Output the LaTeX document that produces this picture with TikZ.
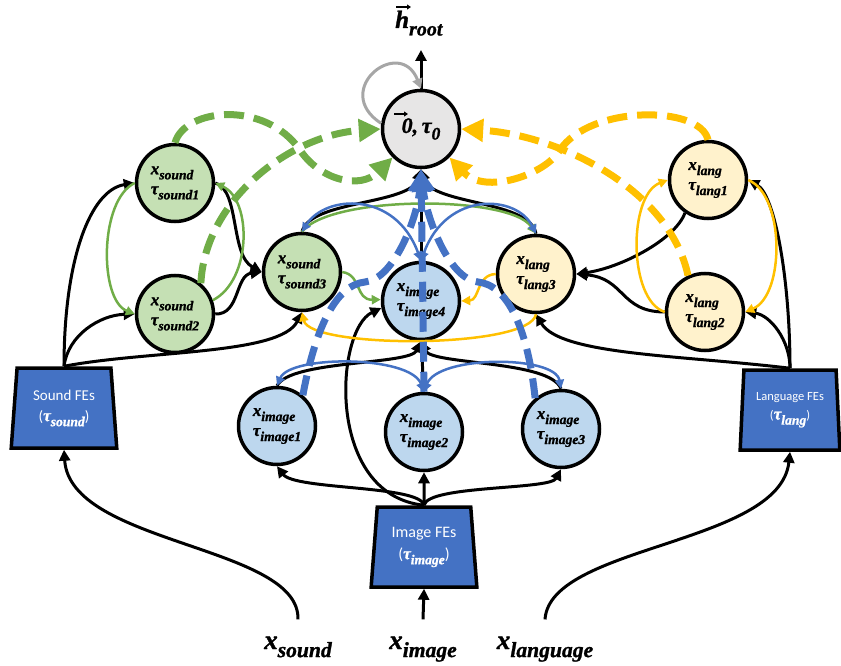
\documentclass[tikz,border=0pt]{standalone}
\usepackage{graphicx}
\usepackage{fontspec}
\newfontfamily\calibri{Carlito}
\newfontfamily\lsf{Liberation Serif}[BoldItalicFeatures={FakeBold=1.2}]
\newcommand\bi{\lsf\bfseries\itshape}
\newcommand\var[2]{{\bi #1\raisebox{-0.3em}{\scalebox{0.8}{\bi #2}}}}
\usetikzlibrary{arrows.meta,shapes.geometric}
\definecolor{gfill}{HTML}{C5E0B4}
\definecolor{gline}{HTML}{70AD47}
\definecolor{yfill}{HTML}{FFF2CC}
\definecolor{yline}{HTML}{FFC000}
\definecolor{bfill}{HTML}{BDD7EE}
\definecolor{bline}{HTML}{4472C4}
\definecolor{rfill}{HTML}{E7E6E6}
\definecolor{loopgray}{HTML}{A6A6A6}
\begin{document}
\begin{tikzpicture}[x=1pt,y=-1pt,
  state/.style={circle, draw=black, line width=3.5pt, minimum size=77pt, inner sep=0pt,
    align=left, font=\fontsize{17}{20}\selectfont},
  gnode/.style={state, fill=gfill},
  ynode/.style={state, fill=yfill},
  bnode/.style={state, fill=bfill},
  rnode/.style={state, fill=rfill, font=\fontsize{22}{26}\selectfont},
  fe/.style={trapezium, trapezium stretches=true, draw=black, line width=3.5pt, fill=bline,
    text=white, align=center, minimum height=80pt, minimum width=106pt,
    trapezium left angle=84, trapezium right angle=84, inner sep=0pt},
  lbl/.style={font=\fontsize{27}{30}\selectfont, inner xsep=0pt, inner ysep=17pt, anchor=base},
  blk/.style={draw=black, line width=3pt, -{Triangle[length=11pt,width=11pt]}},
  vecarr/.style={draw=black, line width=1.4pt, -{Triangle[length=4pt,width=5pt]}},
  thinarr/.style={line width=2.5pt, -{Triangle[length=9pt,width=9pt]}},
  gthin/.style={thinarr, draw=gline},
  ythin/.style={thinarr, draw=yline},
  bthin/.style={line width=2.5pt, draw=bline, {Triangle[length=9pt,width=9pt]}-{Triangle[length=9pt,width=9pt]}},
  dsh/.style={line width=7pt, dash pattern=on 20pt off 10pt, -{Triangle[length=22pt,width=22pt]}},
  gdash/.style={dsh, draw=gline},
  ydash/.style={dsh, draw=yline},
  bdash/.style={dsh, draw=bline},
  loopst/.style={draw=loopgray, line width=3pt, -{Triangle[length=10pt,width=10pt]}}
]
\useasboundingbox (0,0) rectangle (841,666);

% nodes
\node[rnode] (root) at (421,129) {\raisebox{-6pt}{{\bi 0,\,}\var{τ}{0}}};
\node[gnode] (s1) at (175,183) {\var{x}{sound}\\\var{τ}{sound1}};
\node[gnode] (s2) at (175,314) {\var{x}{sound}\\\var{τ}{sound2}};
\node[gnode] (s3) at (302,272) {\var{x}{sound}\\\var{τ}{sound3}};
\node[bnode] (i4) at (421,301) {\var{x}{image}\\\var{τ}{image4}};
\node[bnode] (i1) at (277,426) {\var{x}{image}\\\var{τ}{image1}};
\node[bnode] (i2) at (424,432) {\var{x}{image}\\\var{τ}{image2}};
\node[bnode] (i3) at (561,429) {\var{x}{image}\\\var{τ}{image3}};
\node[ynode] (l3) at (536,274) {\var{x}{lang}\\\var{τ}{lang3}};
\node[ynode] (l1) at (708,180) {\var{x}{lang}\\\var{τ}{lang1}};
\node[ynode] (l2) at (705,312) {\var{x}{lang}\\\var{τ}{lang2}};

\node[fe, font=\calibri\fontsize{15}{21}\selectfont] (sfe) at (64,408) {Sound FEs\\({\fontsize{17}{19}\selectfont\var{τ}{sound}})};
\node[fe, font=\calibri\fontsize{16}{22}\selectfont] (ife) at (424,547) {Image FEs\\({\fontsize{17}{19}\selectfont\var{τ}{image}})};
\node[fe, font=\calibri\fontsize{12.5}{19}\selectfont, minimum width=100pt,
  trapezium left angle=85.5, trapezium right angle=85.5] (lfe) at (790,410) {Language FEs\\({\fontsize{17}{19}\selectfont\var{τ}{lang}})};

\node[anchor=base west, inner sep=0pt, font=\fontsize{25}{28}\selectfont] (hroot) at (395,28) {\var{h}{root}};
\coordinate (hout) at (421,50);
\node[lbl] (xs) at (298,649) {\var{x}{sound}};
\node[lbl] (xi) at (423,649) {\var{x}{image}};
\node[lbl] (xl) at (545,649) {\var{x}{language}};

% vector arrows over h and 0
\draw[vecarr] ([shift={(1,-21)}]hroot.base west) -- ++(15,0);
\draw[vecarr] ([shift={(-27,-15)}]root.center) -- ++(14,0);

% black connectors
\draw[blk] (root.north) -- (hout);
\draw[blk] (s3.north) .. controls (310,200) and (410,205) .. (root.south);
\draw[blk] (l3.north) .. controls (530,200) and (432,205) .. (root.south);
\draw[blk] (i4) -- (root);
\draw[blk] (s1.east) .. controls (240,190) and (230,255) .. (s3.west);
\draw[blk] (s2.east) .. controls (240,315) and (235,275) .. (s3.west);
\draw[blk] (l1.235) .. controls (675,240) and (620,268) .. (l3.east);
\draw[blk] (l2.west) .. controls (620,312) and (625,278) .. (l3.east);
\draw[blk] (i1.north) .. controls (290,360) and (410,365) .. (i4.south);
\draw[blk] (i3.north) .. controls (550,360) and (432,365) .. (i4.south);
\draw[blk] (i2) -- (i4);
\draw[blk] (sfe.north) .. controls (64,260) and (90,190) .. (s1.west);
\draw[blk] (sfe.north) .. controls (68,335) and (100,315) .. (s2.west);
\draw[blk] (sfe.north) .. controls (150,350) and (280,355) .. (s3.south);
\draw[blk] (lfe.north) .. controls (790,280) and (775,195) .. (l1.east);
\draw[blk] (lfe.north) .. controls (790,340) and (770,315) .. (l2.east);
\draw[blk] (lfe.north) .. controls (680,355) and (560,355) .. (l3.south);
\draw[blk] (ife.north) .. controls (420,485) and (295,490) .. (i1.south);
\draw[blk] (ife) -- (i2);
\draw[blk] (ife.north) .. controls (428,485) and (550,490) .. (i3.south);
\draw[blk] (ife.north) .. controls (325,495) and (335,330) .. (i4.190);
\draw[blk] (xs.north) .. controls (300,545) and (70,545) .. (sfe.south);
\draw[blk] (xi.north) -- (ife.south);
\draw[blk] (xl.north) .. controls (550,545) and (780,545) .. (lfe.south);

% grey self loop
\draw[loopst] (root.172) .. controls (330,90) and (400,35) .. (root.north);

% thin coloured connectors
\draw[gthin] (s1.west) .. controls (99,200) and (99,300) .. (s2.west);
\draw[gthin] (s2.20) .. controls (252,280) and (252,200) .. (s1.east);
\draw[ythin] (l2.west) .. controls (628,300) and (628,195) .. (l1.west);
\draw[ythin] (l1.east) .. controls (785,195) and (785,295) .. (l2.east);
\draw[gthin] (s3.north) .. controls (330,195) and (510,195) .. (l3.north);
\draw[ythin] (l3.south) .. controls (530,349) and (310,349) .. (s3.south);
\draw[gthin] (s3.east) .. controls (362,275) and (355,300) .. (i4.178);
\draw[ythin] (l3.west) .. controls (476,275) and (480,300) .. (i4.east);
\draw[bthin] (s3.north) .. controls (325,195) and (395,190) .. (i4.north);
\draw[bthin] (i4.north) .. controls (447,190) and (517,195) .. (l3.north);
\draw[bthin] (i1.north) .. controls (290,355) and (410,355) .. (i2.north);
\draw[bthin] (i2.north) .. controls (438,355) and (555,355) .. (i3.north);

% thick dashed connectors
\draw[gdash] (s1.north) .. controls (185,108) and (265,100) .. (300,150) .. controls (320,180) and (360,190) .. (root.225);
\draw[gdash] (s2.50) .. controls (205,200) and (290,135) .. (root.west);
\draw[ydash] (l1.north) .. controls (700,105) and (590,105) .. (560,150) .. controls (545,175) and (485,195) .. (root.315);
\draw[ydash] (l2.115) .. controls (670,190) and (560,135) .. (root.east);
\draw[bdash] (i2.north) -- (root.south);
\draw[bdash] (i1.50) .. controls (315,330) and (335,285) .. (365,282) .. controls (395,279) and (418,215) .. (root.south);
\draw[bdash] (i3.130) .. controls (528,330) and (508,285) .. (478,282) .. controls (448,279) and (426,215) .. (root.south);
\end{tikzpicture}
\end{document}
